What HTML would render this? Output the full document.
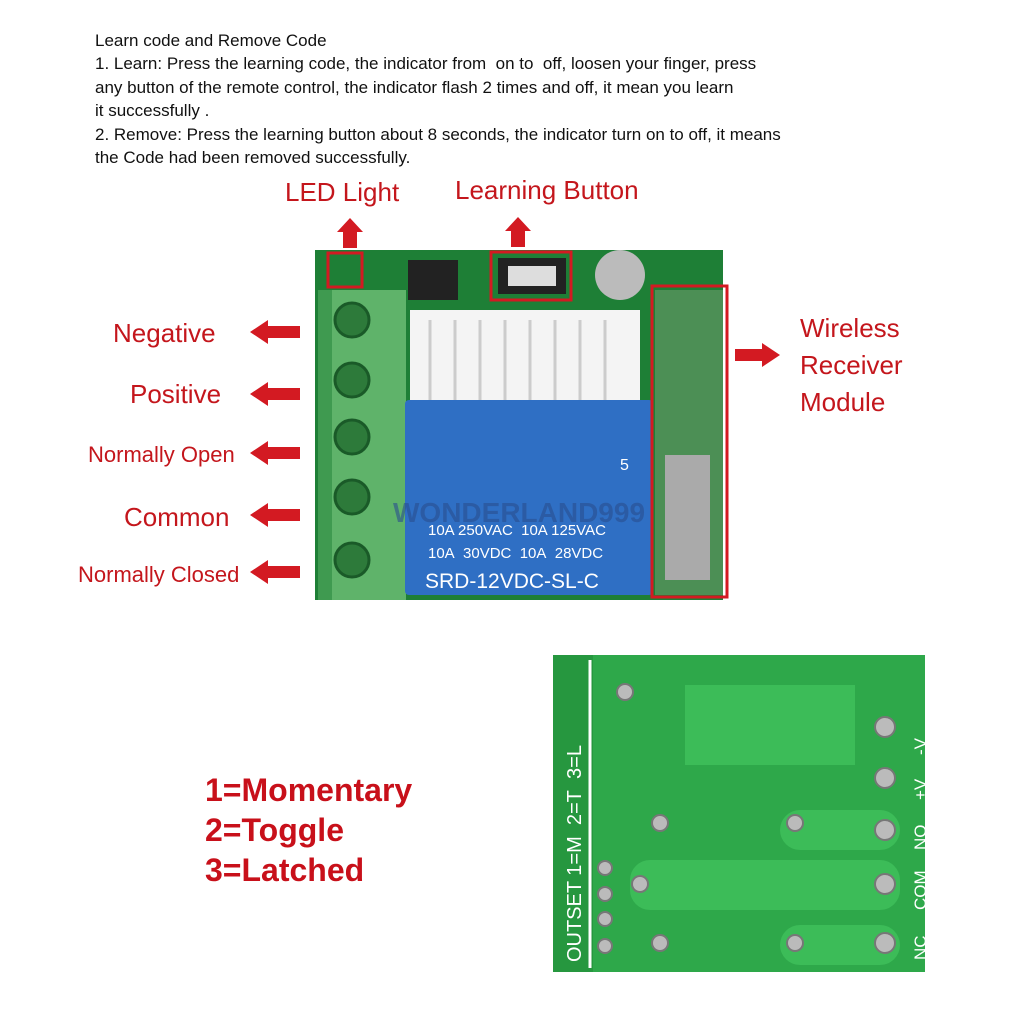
<!DOCTYPE html>
<html><head><meta charset="utf-8"><style>
html,body{margin:0;padding:0;background:#fff;}
body{width:1024px;height:1024px;position:relative;overflow:hidden;font-family:"Liberation Sans",sans-serif;}
.t{position:absolute;left:95px;font-size:17px;color:#111;line-height:23.4px;top:29px;white-space:nowrap;}
svg{position:absolute;left:0;top:0;}
</style></head><body>
<div class="t">Learn code and Remove Code<br>1. Learn: Press the learning code, the indicator from&nbsp; on to&nbsp; off, loosen your finger, press<br>any button of the remote control, the indicator flash 2 times and off, it mean you learn<br>it successfully .<br>2. Remove: Press the learning button about 8 seconds, the indicator turn on to off, it means<br>the Code had been removed successfully.</div>
<svg width="1024" height="1024" viewBox="0 0 1024 1024" font-family="Liberation Sans, sans-serif">
<rect x="315" y="250" width="408" height="350" fill="#1e7f36"/>
<rect x="318" y="290" width="88" height="310" fill="#5fb36a"/>
<rect x="318" y="290" width="14" height="310" fill="#3f9a50"/>
<g fill="#2d7a3a" stroke="#1a5a28" stroke-width="3">
<circle cx="352" cy="320" r="17"/><circle cx="352" cy="380" r="17"/><circle cx="352" cy="437" r="17"/><circle cx="352" cy="497" r="17"/><circle cx="352" cy="560" r="17"/></g>
<rect x="410" y="310" width="230" height="95" fill="#f4f4f4"/>
<g stroke="#ccc" stroke-width="3">
<line x1="430" y1="320" x2="430" y2="400"/><line x1="455" y1="320" x2="455" y2="400"/><line x1="480" y1="320" x2="480" y2="400"/><line x1="505" y1="320" x2="505" y2="400"/><line x1="530" y1="320" x2="530" y2="400"/><line x1="555" y1="320" x2="555" y2="400"/><line x1="580" y1="320" x2="580" y2="400"/><line x1="605" y1="320" x2="605" y2="400"/></g>
<rect x="405" y="400" width="248" height="195" fill="#2f6fc4" rx="4"/>
<text x="428" y="535" font-size="15" fill="#fff">10A 250VAC&#160; 10A 125VAC</text>
<text x="428" y="558" font-size="15" fill="#fff">10A&#160; 30VDC&#160; 10A&#160; 28VDC</text>
<text x="425" y="588" font-size="21" fill="#fff">SRD-12VDC-SL-C</text>
<text x="620" y="470" font-size="16" fill="#fff">5</text>
<text x="393" y="522" font-size="28" fill="#2a4f8f" font-weight="bold" opacity="0.6">WONDERLAND999</text>
<rect x="498" y="258" width="68" height="36" fill="#222"/>
<rect x="508" y="266" width="48" height="20" fill="#ddd"/>
<circle cx="620" cy="275" r="25" fill="#bbb"/>
<rect x="408" y="260" width="50" height="40" fill="#222"/>
<rect x="655" y="290" width="68" height="305" fill="#4c8f55"/>
<rect x="665" y="455" width="45" height="125" fill="#aaa"/>
<g fill="none" stroke="#d31a22" stroke-width="3">
<rect x="328" y="253" width="34" height="34"/><rect x="491" y="252" width="80" height="48"/><rect x="652" y="286" width="75" height="311"/></g>
<g fill="#c4161c" font-size="26">
<text x="285" y="201">LED Light</text>
<text x="455" y="199">Learning Button</text>
<text x="113" y="342">Negative</text>
<text x="130" y="403">Positive</text>
<text x="88" y="462" font-size="22">Normally Open</text>
<text x="124" y="526">Common</text>
<text x="78" y="582" font-size="22">Normally Closed</text>
<text x="800" y="337">Wireless</text>
<text x="800" y="374">Receiver</text>
<text x="800" y="411">Module</text>
</g>
<g fill="#d31a22">
<polygon points="343,248 343,232 337,232 350,218 363,232 357,232 357,248"/>
<polygon points="511,247 511,231 505,231 518,217 531,231 525,231 525,247"/>
<polygon points="300,326 268,326 268,320 250,332 268,344 268,338 300,338"/>
<polygon points="300,388 268,388 268,382 250,394 268,406 268,400 300,400"/>
<polygon points="300,447 268,447 268,441 250,453 268,465 268,459 300,459"/>
<polygon points="300,509 268,509 268,503 250,515 268,527 268,521 300,521"/>
<polygon points="300,566 268,566 268,560 250,572 268,584 268,578 300,578"/>
<polygon points="735,349 762,349 762,343 780,355 762,367 762,361 735,361"/>
</g>
<rect x="553" y="655" width="372" height="317" fill="#2ea84a"/>
<rect x="553" y="655" width="40" height="317" fill="#26973f"/>
<line x1="590" y1="660" x2="590" y2="968" stroke="#fff" stroke-width="3"/>
<g stroke="#fff" stroke-width="2"><line x1="531" y1="865" x2="553" y2="865"/><line x1="531" y1="893" x2="553" y2="893"/><line x1="531" y1="921" x2="553" y2="921"/><line x1="531" y1="948" x2="553" y2="948"/></g>
<rect x="685" y="685" width="170" height="80" fill="#3cbc58"/>
<g fill="#3cbc58"><rect x="780" y="810" width="120" height="40" rx="20"/><rect x="630" y="860" width="270" height="50" rx="20"/><rect x="780" y="925" width="120" height="40" rx="20"/></g>
<g fill="#bbb" stroke="#777" stroke-width="2">
<circle cx="625" cy="692" r="8"/><circle cx="885" cy="727" r="10"/><circle cx="885" cy="778" r="10"/><circle cx="885" cy="830" r="10"/><circle cx="885" cy="884" r="10"/><circle cx="885" cy="943" r="10"/><circle cx="660" cy="823" r="8"/><circle cx="605" cy="868" r="7"/><circle cx="605" cy="894" r="7"/><circle cx="605" cy="919" r="7"/><circle cx="605" cy="946" r="7"/><circle cx="660" cy="943" r="8"/><circle cx="795" cy="823" r="8"/><circle cx="795" cy="943" r="8"/><circle cx="640" cy="884" r="8"/></g>
<g fill="#fff" font-size="20">
<text transform="translate(581,962) rotate(-90)">OUTSET 1=M&#160; 2=T&#160; 3=L</text>
<text transform="translate(926,755) rotate(-90)" font-size="17">-V</text>
<text transform="translate(926,800) rotate(-90)" font-size="17">+V</text>
<text transform="translate(926,850) rotate(-90)" font-size="17">NO</text>
<text transform="translate(926,910) rotate(-90)" font-size="17">COM</text>
<text transform="translate(926,960) rotate(-90)" font-size="17">NC</text>
</g>
<g fill="#c8101a" font-size="32" font-weight="bold">
<text x="205" y="801">1=Momentary</text>
<text x="205" y="841">2=Toggle</text>
<text x="205" y="881">3=Latched</text>
</g>
</svg>
</body></html>
